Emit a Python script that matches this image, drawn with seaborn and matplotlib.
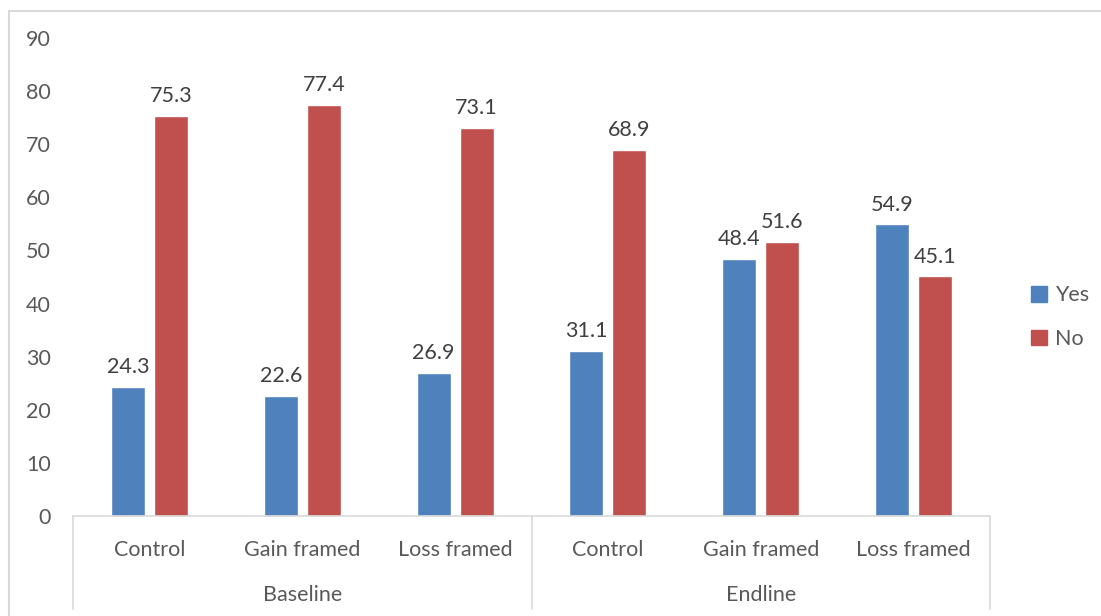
import pandas as pd
import matplotlib.pyplot as plt
import seaborn as sns
from matplotlib.lines import Line2D
from matplotlib.patches import Patch

# Data
phases = ["Baseline", "Endline"]
arms = ["Control", "Gain framed", "Loss framed"]
yes_vals = [24.3, 22.6, 26.9, 31.1, 48.4, 54.9]
no_vals = [75.3, 77.4, 73.1, 68.9, 51.6, 45.1]

keys = [f"{p}|{a}" for p in phases for a in arms]
df = pd.DataFrame({
    "group": keys * 2,
    "answer": ["Yes"] * 6 + ["No"] * 6,
    "value": yes_vals + no_vals,
})

sns.set_style("white")
plt.rcParams["font.family"] = ["Lato", "DejaVu Sans"]
txt = "#595959"
fs = 15.5

fig = plt.figure(figsize=(11.01, 6.16), dpi=100)
ax = fig.add_axes([0.0663, 0.1623, 0.8329, 0.776])

sns.barplot(data=df, x="group", y="value", hue="answer", order=keys,
            hue_order=["Yes", "No"], palette=["#4F81BD", "#C0504D"],
            width=0.563, gap=0.21, saturation=1, ax=ax, legend=False)

for c in ax.containers:
    ax.bar_label(c, fmt="%.1f", padding=7, fontsize=fs, color="#404040")

ax.set_ylim(0, 90)
ax.set_xlim(-0.5, 5.5)
ax.set_yticks(range(0, 91, 10))
ax.set_xticks(range(6))
ax.set_xticklabels(arms * 2)
ax.tick_params(axis="both", length=0, labelsize=fs, colors=txt)
ax.tick_params(axis="x", pad=17)
ax.tick_params(axis="y", pad=16)
ax.set(xlabel="", ylabel="")
for s in ["left", "right", "top"]:
    ax.spines[s].set_visible(False)
ax.spines["bottom"].set_color("#D9D9D9")
ax.spines["bottom"].set_linewidth(1.2)

# multi-level category axis
for xb in [-0.5, 2.5, 5.5]:
    ax.plot([xb, xb], [0, -0.195], transform=ax.get_xaxis_transform(),
            color="#D9D9D9", lw=1.2, clip_on=False)
for i, p in enumerate(phases):
    ax.text(1 + 3 * i, -0.166, p, transform=ax.get_xaxis_transform(),
            ha="center", va="center", fontsize=fs, color=txt)

handles = [Patch(color="#4F81BD", label="Yes"), Patch(color="#C0504D", label="No")]
fig.legend(handles=handles, loc="center left", bbox_to_anchor=(0.919, 0.485),
           frameon=False, fontsize=fs, labelcolor=txt, handlelength=0.75,
           handleheight=0.75, handletextpad=0.35, labelspacing=1.1)

# chart border
fig.add_artist(Line2D([0.0082, 0.0082], [0, 0.982], color="#D9D9D9", lw=1.5))
fig.add_artist(Line2D([0.0082, 1], [0.982, 0.982], color="#D9D9D9", lw=1.5))

fig.savefig("out.png", dpi=100)
